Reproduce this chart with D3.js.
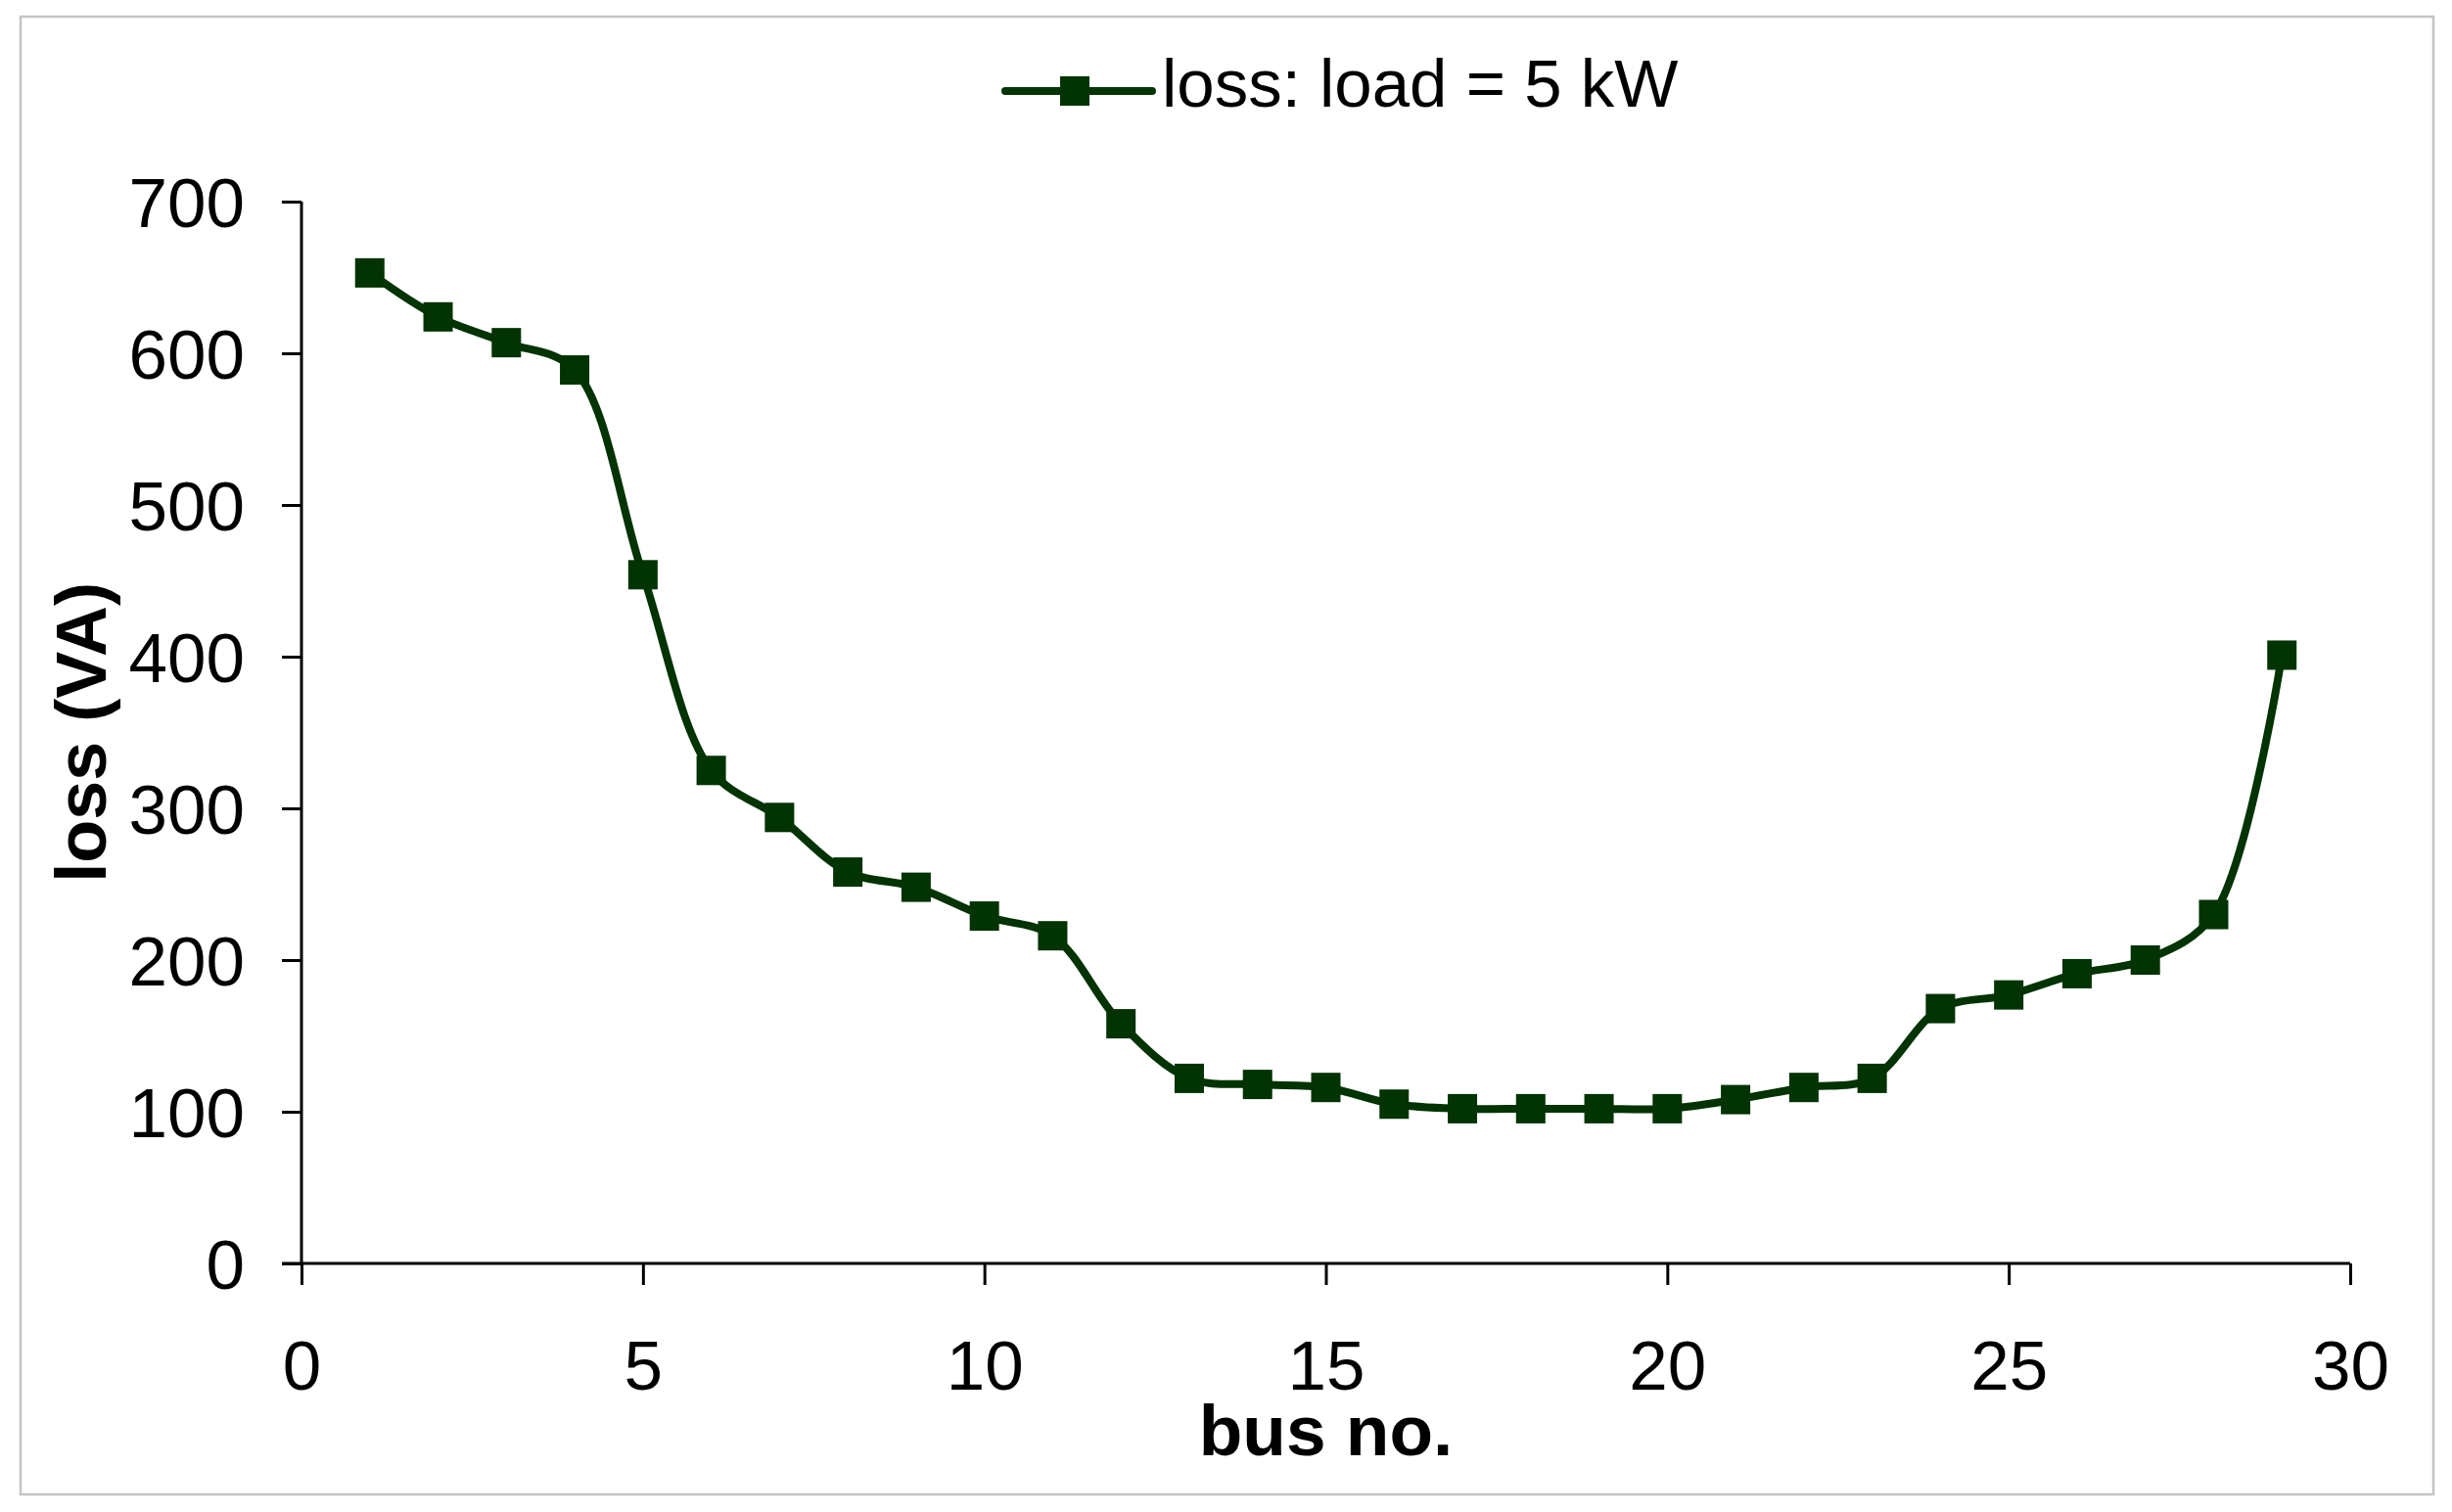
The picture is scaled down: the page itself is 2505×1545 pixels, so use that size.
<!DOCTYPE html>
<html>
<head>
<meta charset="utf-8">
<script src="https://cdn.jsdelivr.net/npm/d3@7"></script>
<style>
  html, body { margin: 0; padding: 0; background: #fff; }
  svg { display: block; }
</style>
</head>
<body>
<script>
// ---- data ----
const busNo = [1,2,3,4,5,6,7,8,9,10,11,12,13,14,15,16,17,18,19,20,21,22,23,24,25,26,27,28,29];
const lossVA = [653,624,607,589,454,325,294,258,248,229,216,158,122,118,116,105,102,102,102,102,108,116,122,168,177,191,200,230,401];
const xTicks = [0,5,10,15,20,25,30];
const yTicks = [0,100,200,300,400,500,600,700];
const seriesName = "loss: load = 5 kW";
const xTitle = "bus no.";
const yTitle = "loss (VA)";

const W = 2505, H = 1545;
const color = "#023302";
const font = "'Liberation Sans', Arial, Helvetica, sans-serif";

const svg = d3.select("body").append("svg").attr("width", W).attr("height", H);
svg.append("rect").attr("x",0).attr("y",0).attr("width",W).attr("height",H).attr("fill","#fff");
// chart border
svg.append("rect").attr("x",21).attr("y",17).attr("width",2465).attr("height",1510)
  .attr("fill","none").attr("stroke","#c4c4c4").attr("stroke-width",2.5);

const x = d3.scaleLinear().domain([0,30]).range([308,2401]);
const y = d3.scaleLinear().domain([0,700]).range([1291,206]);

// axes
const xAxis = d3.axisBottom(x).tickValues(xTicks).tickSize(22).tickSizeOuter(22).tickPadding(57);
const gx = svg.append("g").attr("transform", `translate(0,${y(0)})`).call(xAxis);
const yAxis = d3.axisLeft(y).tickValues(yTicks).tickSize(20).tickSizeOuter(0).tickPadding(38);
const gy = svg.append("g").attr("transform", `translate(${x(0)},0)`).call(yAxis);

[gx, gy].forEach(g => {
  g.selectAll("path.domain").attr("stroke","#000").attr("stroke-width",3);
  g.selectAll(".tick line").attr("stroke","#000").attr("stroke-width",3);
  g.selectAll(".tick text").attr("fill","#000").style("font-family", font).style("font-size","71px");
});
gy.select("path.domain").attr("d", `M0,${y(700)}V${y(0)}`);
gx.select("path.domain").attr("d", `M${x(0)-20},0H${x(30)}`);
gx.selectAll(".tick text").attr("dy", null).attr("y", 129 - 0).attr("dominant-baseline", null)
  .each(function(){ d3.select(this).attr("y", 129); });
gy.selectAll(".tick text").attr("dy", "0.36em");

// titles
svg.append("text").attr("x", (x(0)+x(30))/2).attr("y", 1487).attr("text-anchor","middle")
  .style("font-family", font).style("font-size","73px").style("font-weight","bold").text(xTitle);
svg.append("text").attr("transform", `translate(108,${(y(0)+y(700))/2}) rotate(-90)`)
  .attr("text-anchor","middle")
  .style("font-family", font).style("font-size","72px").style("font-weight","bold").text(yTitle);

// series
const pts = busNo.map((b,i) => [b, lossVA[i]]);
const line = d3.line().x(d => x(d[0])).y(d => y(d[1])).curve(d3.curveCatmullRom.alpha(0.5));
svg.append("path").attr("d", line(pts)).attr("fill","none").attr("stroke",color)
  .attr("stroke-width",8).attr("stroke-linejoin","round").attr("stroke-linecap","round");
const ms = 30;
svg.append("g").selectAll("rect").data(pts).join("rect")
  .attr("x", d => x(d[0]) - ms/2).attr("y", d => y(d[1]) - ms/2)
  .attr("width", ms).attr("height", ms).attr("fill", color);

// legend
const lg = svg.append("g");
lg.append("line").attr("x1",1027).attr("x2",1177).attr("y1",93).attr("y2",93)
  .attr("stroke",color).attr("stroke-width",8).attr("stroke-linecap","round");
lg.append("rect").attr("x",1098-ms/2).attr("y",93-ms/2).attr("width",ms).attr("height",ms).attr("fill",color);
lg.append("text").attr("x",1187).attr("y",109)
  .style("font-family", font).style("font-size","69px").attr("fill","#000").text(seriesName);
</script>
</body>
</html>
